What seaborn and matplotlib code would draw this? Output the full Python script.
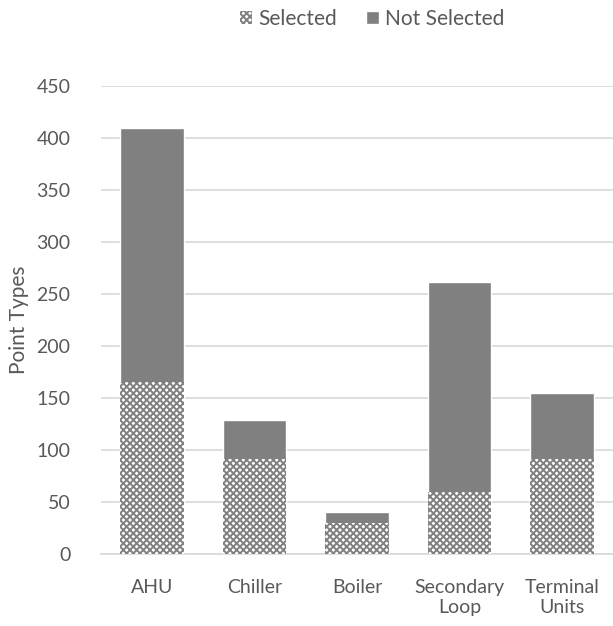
import pandas as pd
import matplotlib.pyplot as plt
import matplotlib.patches as mpatches
import seaborn as sns

# Data
categories = ['AHU', 'Chiller', 'Boiler', 'Secondary\nLoop', 'Terminal\nUnits']
selected = [165, 91, 30, 60, 91]
not_selected = [245, 38, 10, 202, 64]

df = pd.DataFrame({'Category': categories, 'Selected': selected, 'Not Selected': not_selected})
df['Total'] = df['Selected'] + df['Not Selected']

sns.set_style('white')
plt.rcParams['font.family'] = ['Lato', 'DejaVu Sans']
plt.rcParams['hatch.color'] = '#808080'
plt.rcParams['hatch.linewidth'] = 1.4

fig = plt.figure(figsize=(6.13, 6.26), dpi=100)
ax = fig.add_axes([101 / 613, 1 - 554 / 626, 1 - 101 / 613, (554 - 86) / 626])

# Stacked: total bars first (Not Selected), then Selected on top
sns.barplot(x='Category', y='Total', data=df, color='#808080', width=0.62,
            saturation=1, ax=ax, zorder=2)
n = len(ax.patches)
sns.barplot(x='Category', y='Selected', data=df, color='white', width=0.62,
            saturation=1, ax=ax, zorder=3)
for p in ax.patches[n:]:
    p.set_hatch('xxxxx')
    p.set_edgecolor('#808080')
    p.set_linewidth(0)

ax.set_ylim(0, 450)
ax.set_yticks(range(0, 451, 50))
ax.grid(axis='y', color='#d9d9d9', linewidth=1.2, zorder=0)
ax.set_axisbelow(True)
for s in ['top', 'right', 'left']:
    ax.spines[s].set_visible(False)
ax.spines['bottom'].set_color('#d9d9d9')
ax.spines['bottom'].set_linewidth(1.2)
ax.tick_params(axis='y', length=0, labelsize=14, labelcolor='#595959', pad=22)
ax.tick_params(axis='x', length=0, labelsize=14, labelcolor='#595959', pad=18)
ax.set_xlabel('')
ax.set_ylabel('Point Types', fontsize=15, color='#595959')
ax.yaxis.set_label_coords(-72 / 512, 0.5)

handles = [mpatches.Patch(facecolor='white', hatch='xxxxx', edgecolor='#808080', linewidth=0, label='Selected'),
           mpatches.Patch(facecolor='#808080', label='Not Selected')]
leg = fig.legend(handles=handles, loc='center', bbox_to_anchor=(372 / 613, 1 - 19 / 626),
                 ncol=2, frameon=False, fontsize=15, handlelength=0.6, handleheight=0.6,
                 handletextpad=0.3, columnspacing=1.4)
for t in leg.get_texts():
    t.set_color('#595959')

plt.savefig('out.png', dpi=100)
plt.close()
